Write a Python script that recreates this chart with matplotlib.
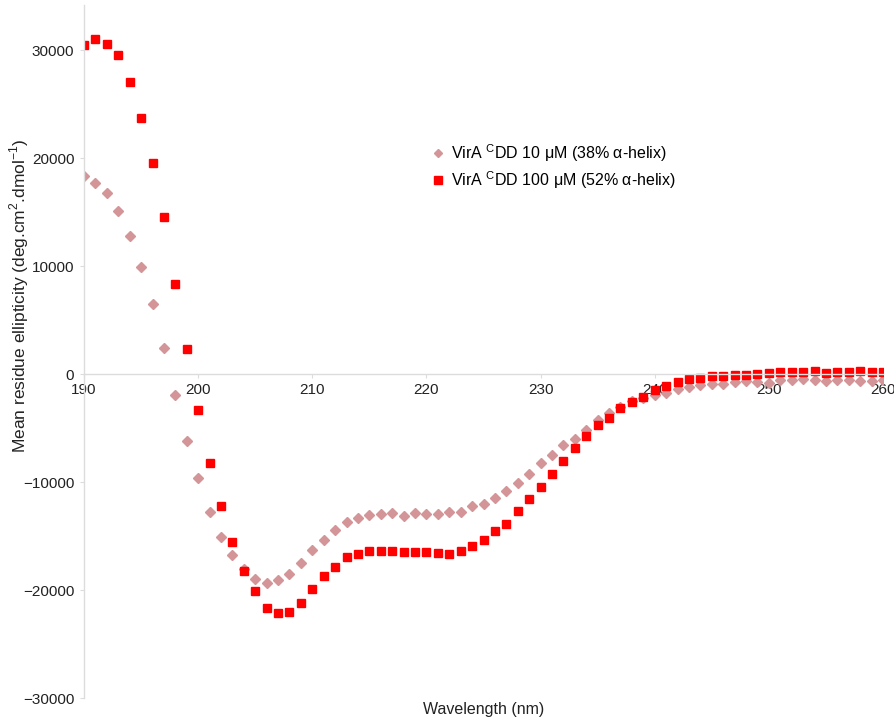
import matplotlib
matplotlib.use('Agg')
import matplotlib.pyplot as plt

plt.rcParams['font.family'] = ['Liberation Sans', 'DejaVu Sans']

wavelength = list(range(190, 261))

# VirA CDD 10 uM (diamonds)
cd_10 = [18330, 17750, 16760, 15150, 12780, 9970, 6510, 2470, -1940, -6230,
         -9660, -12810, -15060, -16790, -18060, -18980, -19320, -19040, -18520, -17470,
         -16330, -15370, -14440, -13730, -13300, -13060, -12960, -12840, -13090, -12870,
         -12930, -12990, -12770, -12750, -12250, -12040, -11480, -10800, -10120, -9260,
         -8270, -7440, -6570, -5960, -5130, -4260, -3610, -3000, -2470, -2200,
         -1880, -1700, -1330, -1180, -990, -930, -870, -680, -620, -680,
         -770, -530, -530, -460, -560, -590, -560, -560, -620, -620,
         -560]

# VirA CDD 100 uM (squares)
cd_100 = [30460, 31080, 30620, 29540, 27040, 23700, 19600, 14570, 8360, 2380,
          -3270, -8180, -12220, -15530, -18210, -20120, -21670, -22160, -22070, -21230,
          -19880, -18700, -17870, -16970, -16640, -16390, -16370, -16390, -16480, -16450,
          -16480, -16540, -16640, -16420, -15900, -15370, -14570, -13890, -12650, -11540,
          -10490, -9200, -8000, -6850, -5770, -4720, -4020, -3150, -2540, -2100,
          -1450, -1080, -740, -430, -310, -120, -120, -30, -30, 30,
          120, 250, 180, 220, 340, 120, 220, 250, 280, 180,
          220]

label_10 = r'VirA $^{\mathregular{C}}$DD 10 μM (38% α-helix)'
label_100 = r'VirA $^{\mathregular{C}}$DD 100 μM (52% α-helix)'

fig = plt.figure(figsize=(8.95, 7.22), dpi=100)
ax = fig.add_axes([0.0939, 0.0332, 0.8927, 0.9598])

ax.plot(wavelength, cd_10, linestyle='none', marker='D', markersize=5.0,
        color='#d39597', label=label_10)
ax.plot(wavelength, cd_100, linestyle='none', marker='s', markersize=6.0,
        color='#ff0000', label=label_100)

ax.set_xlim(190, 260)
ax.set_ylim(-30000, 34200)
ax.set_xticks(range(190, 261, 10))
ax.set_yticks(range(-30000, 30001, 10000))

ax.spines['top'].set_visible(False)
ax.spines['right'].set_visible(False)
ax.spines['bottom'].set_position(('data', 0))
for s in ['left', 'bottom']:
    ax.spines[s].set_color('#dcdcdc')
    ax.spines[s].set_linewidth(1.0)
ax.tick_params(axis='both', colors='#dcdcdc', labelcolor='#222222', labelsize=11, length=3)
ax.tick_params(axis='y', pad=4)
ax.tick_params(axis='x', pad=3)

ax.set_xlabel('Wavelength (nm)', fontsize=11.5, color='#222222')
ax.xaxis.set_label_coords(0.5, -0.006)
ax.set_ylabel(r'Mean residue ellipticity (deg.cm$^{\mathregular{2}}$.dmol$^{\mathregular{-1}}$)',
              fontsize=12.5, color='#222222')
ax.yaxis.set_label_coords(-0.067, 0.58)

ax.legend(loc='upper left', bbox_to_anchor=(0.417, 0.823), frameon=False,
          fontsize=11.5, handlelength=0.8, handletextpad=0.4, labelspacing=0.35,
          markerscale=0.85)

fig.savefig('out.png', dpi=100)
